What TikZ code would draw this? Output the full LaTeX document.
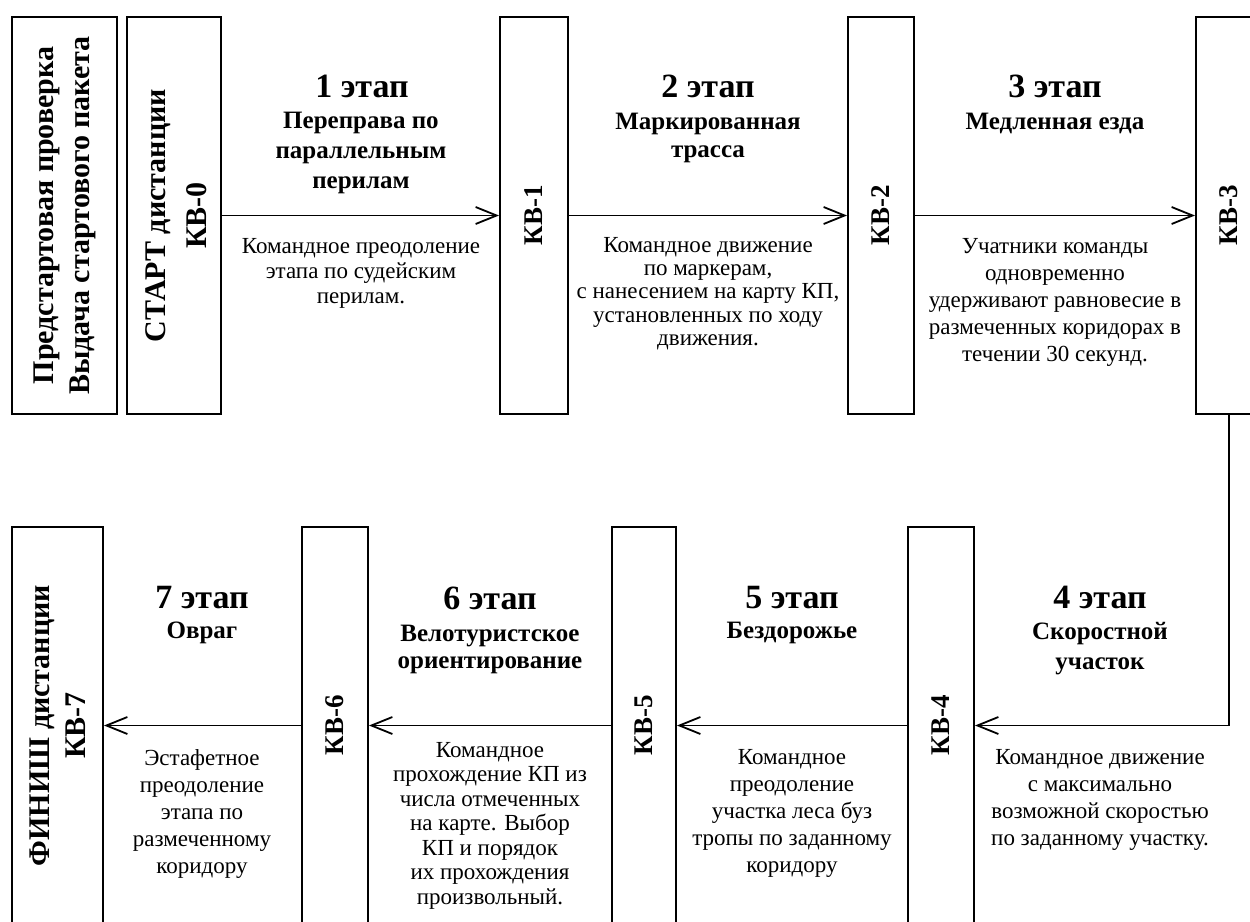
\documentclass[tikz,border=0pt]{standalone}
\usepackage{fontspec}
\setmainfont{Liberation Serif}
\usetikzlibrary{arrows.meta}
\begin{document}
\begin{tikzpicture}[x=0.5pt,y=-0.5pt,
  box/.style={draw, line width=1pt, inner sep=0pt, minimum height=198.5pt},
  lbl/.style={font=\fontsize{13.5}{17.5}\selectfont\bfseries, rotate=90, align=center, inner sep=0pt},
  biglbl/.style={lbl, font=\fontsize{15}{18}\selectfont\bfseries},
  conn/.style={line width=0.9pt, -{Straight Barb[length=10.5pt,width=8.5pt,line width=0.9pt]}},
  head/.style={font=\fontsize{17}{19}\selectfont\bfseries, anchor=base, inner sep=0pt},
  sub/.style={font=\fontsize{12.5}{15}\selectfont\bfseries, align=center, anchor=north, inner sep=0pt},
  body/.style={font=\fontsize{11.5}{12.5}\selectfont, align=center, anchor=north, inner sep=0pt}]
\clip (0,0) rectangle (1250,922);
\fill[white] (0,0) rectangle (1250,922);
% top row boxes
\node[box, minimum width=52.5pt] (pre) at (64.5,215.5) {};
\node[box, minimum width=47pt] (start) at (174,215.5) {};
\node[box, minimum width=34pt] (kb1) at (534,215.5) {};
\node[box, minimum width=33pt] (kb2) at (881,215.5) {};
\node[box, minimum width=33pt] (kb3) at (1229,215.5) {};
% bottom row boxes
\node[box, minimum width=33pt] (kb4) at (941,725.5) {};
\node[box, minimum width=32pt] (kb5) at (644,725.5) {};
\node[box, minimum width=33pt] (kb6) at (335,725.5) {};
\node[box, minimum width=45.5pt] (kb7) at (57.5,725.5) {};
% box labels
\node[biglbl] (preT) at (pre.center) {Предстартовая проверка\\Выдача стартового пакета};
\node[biglbl, font=\fontsize{15}{20.5}\selectfont\bfseries] (startT) at (176,215.5) {СТАРТ дистанции\\КВ-0};
\node[lbl] (kb1T) at (kb1.center) {КВ-1};
\node[lbl] (kb2T) at (kb2.center) {КВ-2};
\node[lbl] (kb3T) at (kb3.center) {КВ-3};
\node[lbl] (kb4T) at (kb4.center) {КВ-4};
\node[lbl] (kb5T) at (kb5.center) {КВ-5};
\node[lbl] (kb6T) at (kb6.center) {КВ-6};
\node[biglbl] (kb7T) at (kb7.center) {ФИНИШ дистанции\\КВ-7};
% connectors
\draw[conn] (start.east) -- (kb1.west);
\draw[conn] (kb1.east) -- (kb2.west);
\draw[conn] (kb2.east) -- (kb3.west);
\draw[conn] (kb3.south) |- (kb4.east);
\draw[conn] (kb4.west) -- (kb5.east);
\draw[conn] (kb5.west) -- (kb6.east);
\draw[conn] (kb6.west) -- (kb7.east);
% stage 1
\node[head] (h1) at (362,97) {1 этап};
\node[sub] (s1) at (361,111.5) {Переправа по\\параллельным\\перилам};
\node[body] (b1) at (361,238) {Командное преодоление\\этапа по судейским\\перилам.};
% stage 2
\node[head] (h2) at (708,97) {2 этап};
\node[sub, font=\fontsize{12.5}{14}\selectfont\bfseries] (s2) at (708,112.5) {Маркированная\\трасса};
\node[body, font=\fontsize{11.5}{11.6}\selectfont] (b2) at (708,237) {Командное движение\\по маркерам,\\с нанесением на карту КП,\\установленных по ходу\\движения.};
% stage 3
\node[head] (h3) at (1055,97) {3 этап};
\node[sub] (s3) at (1055,112.5) {Медленная езда};
\node[body, font=\fontsize{11.5}{13.5}\selectfont] (b3) at (1055,238) {Учатники команды\\одновременно\\удерживают равновесие в\\размеченных коридорах в\\течении 30 секунд.};
% stage 4
\node[head] (h4) at (1100,608) {4 этап};
\node[sub] (s4) at (1100,621.5) {Скоростной\\участок};
\node[body, font=\fontsize{11.5}{13.5}\selectfont] (b4) at (1100,749) {Командное движение\\с максимально\\возможной скоростью\\по заданному участку.};
% stage 5
\node[head] (h5) at (792,608) {5 этап};
\node[sub] (s5) at (792,621.5) {Бездорожье};
\node[body, font=\fontsize{11.5}{13.5}\selectfont] (b5) at (792,749) {Командное\\преодоление\\участка леса буз\\тропы по заданному\\коридору};
% stage 6
\node[head] (h6) at (490,609) {6 этап};
\node[sub, font=\fontsize{12.5}{13.5}\selectfont\bfseries] (s6) at (490,624.5) {Велотуристское\\ориентирование};
\node[body, font=\fontsize{11.5}{12.25}\selectfont] (b6) at (490,742) {Командное\\прохождение КП из\\числа отмеченных\\на карте. Выбор\\КП и порядок\\их прохождения\\произвольный.};
% stage 7
\node[head] (h7) at (202,608) {7 этап};
\node[sub] (s7) at (202,621.5) {Овраг};
\node[body, font=\fontsize{11.5}{13.5}\selectfont] (b7) at (202,749) {Эстафетное\\преодоление\\этапа по\\размеченному\\коридору};
\end{tikzpicture}
\end{document}
